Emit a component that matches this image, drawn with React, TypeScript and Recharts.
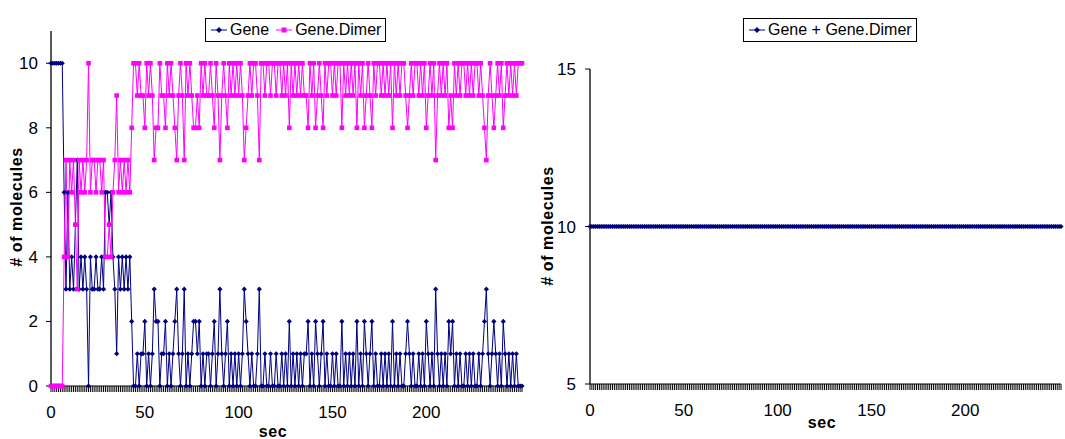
import { LineChart, Line, XAxis, YAxis } from 'recharts'

// Gene / Gene.Dimer molecule counts per second
const GENE = [
  10, 10, 10, 10, 10, 10, 10, 6, 3, 6,
  3, 4, 3, 5, 7, 3, 4, 3, 4, 3,
  0, 4, 3, 3, 4, 3, 3, 4, 3, 6,
  6, 5, 6, 4, 3, 1, 4, 3, 4, 3,
  4, 3, 4, 2, 0, 0, 1, 0, 1, 1,
  2, 0, 1, 0, 1, 3, 2, 2, 0, 1,
  1, 2, 0, 1, 0, 1, 2, 3, 1, 0,
  1, 3, 0, 1, 0, 1, 2, 2, 1, 2,
  0, 1, 0, 1, 1, 0, 1, 2, 0, 1,
  3, 1, 0, 1, 2, 0, 1, 0, 1, 0,
  1, 0, 1, 3, 2, 1, 0, 1, 0, 0,
  1, 3, 0, 0, 1, 0, 0, 1, 0, 0,
  1, 0, 0, 1, 0, 1, 0, 2, 0, 1,
  0, 1, 0, 1, 0, 1, 1, 2, 0, 1,
  0, 2, 1, 0, 1, 2, 0, 1, 0, 0,
  1, 0, 1, 0, 0, 2, 0, 1, 0, 1,
  0, 1, 0, 2, 0, 1, 0, 2, 1, 0,
  1, 2, 0, 1, 0, 0, 1, 0, 1, 0,
  1, 0, 2, 0, 1, 0, 1, 0, 0, 1,
  2, 1, 0, 1, 0, 0, 1, 0, 1, 0,
  2, 1, 0, 1, 0, 3, 1, 0, 1, 0,
  1, 0, 2, 1, 2, 0, 1, 0, 1, 0,
  0, 1, 0, 1, 0, 1, 0, 0, 1, 0,
  1, 2, 3, 1, 0, 1, 2, 1, 0, 1,
  0, 2, 1, 0, 1, 0, 1, 0, 1, 0,
  0, 0,
]

const GENE_DIMER = [
  0, 0, 0, 0, 0, 0, 0, 4, 7, 4,
  7, 6, 7, 5, 3, 7, 6, 7, 6, 7,
  10, 6, 7, 7, 6, 7, 7, 6, 7, 4,
  4, 5, 4, 6, 7, 9, 6, 7, 6, 7,
  6, 7, 6, 8, 10, 10, 9, 10, 9, 9,
  8, 10, 9, 10, 9, 7, 8, 8, 10, 9,
  9, 8, 10, 9, 10, 9, 8, 7, 9, 10,
  9, 7, 10, 9, 10, 9, 8, 8, 9, 8,
  10, 9, 10, 9, 9, 10, 9, 8, 10, 9,
  7, 9, 10, 9, 8, 10, 9, 10, 9, 10,
  9, 10, 9, 7, 8, 9, 10, 9, 10, 10,
  9, 7, 10, 10, 9, 10, 10, 9, 10, 10,
  9, 10, 10, 9, 10, 9, 10, 8, 10, 9,
  10, 9, 10, 9, 10, 9, 9, 8, 10, 9,
  10, 8, 9, 10, 9, 8, 10, 9, 10, 10,
  9, 10, 9, 10, 10, 8, 10, 9, 10, 9,
  10, 9, 10, 8, 10, 9, 10, 8, 9, 10,
  9, 8, 10, 9, 10, 10, 9, 10, 9, 10,
  9, 10, 8, 10, 9, 10, 9, 10, 10, 9,
  8, 9, 10, 9, 10, 10, 9, 10, 9, 10,
  8, 9, 10, 9, 10, 7, 9, 10, 9, 10,
  9, 10, 8, 9, 8, 10, 9, 10, 9, 10,
  10, 9, 10, 9, 10, 9, 10, 10, 9, 10,
  9, 8, 7, 9, 10, 9, 8, 9, 10, 9,
  10, 8, 9, 10, 9, 10, 9, 10, 9, 10,
  10, 10,
]

const GENE_TOTAL = [
  10, 10, 10, 10, 10, 10, 10, 10, 10, 10, 10, 10,
  10, 10, 10, 10, 10, 10, 10, 10, 10, 10, 10, 10,
  10, 10, 10, 10, 10, 10, 10, 10, 10, 10, 10, 10,
  10, 10, 10, 10, 10, 10, 10, 10, 10, 10, 10, 10,
  10, 10, 10, 10, 10, 10, 10, 10, 10, 10, 10, 10,
  10, 10, 10, 10, 10, 10, 10, 10, 10, 10, 10, 10,
  10, 10, 10, 10, 10, 10, 10, 10, 10, 10, 10, 10,
  10, 10, 10, 10, 10, 10, 10, 10, 10, 10, 10, 10,
  10, 10, 10, 10, 10, 10, 10, 10, 10, 10, 10, 10,
  10, 10, 10, 10, 10, 10, 10, 10, 10, 10, 10, 10,
  10, 10, 10, 10, 10, 10, 10, 10, 10, 10, 10, 10,
  10, 10, 10, 10, 10, 10, 10, 10, 10, 10, 10, 10,
  10, 10, 10, 10, 10, 10, 10, 10, 10, 10, 10, 10,
  10, 10, 10, 10, 10, 10, 10, 10, 10, 10, 10, 10,
  10, 10, 10, 10, 10, 10, 10, 10, 10, 10, 10, 10,
  10, 10, 10, 10, 10, 10, 10, 10, 10, 10, 10, 10,
  10, 10, 10, 10, 10, 10, 10, 10, 10, 10, 10, 10,
  10, 10, 10, 10, 10, 10, 10, 10, 10, 10, 10, 10,
  10, 10, 10, 10, 10, 10, 10, 10, 10, 10, 10, 10,
  10, 10, 10, 10, 10, 10, 10, 10, 10, 10, 10, 10,
  10, 10, 10, 10, 10, 10, 10, 10, 10, 10, 10, 10,
]

// one category per second
const SECONDS = GENE.map((_, i) => i)
const SEC_LABELS = [0, 50, 100, 150, 200]
const LEFT_Y_TICKS = [0, 2, 4, 6, 8, 10]
const RIGHT_Y_TICKS = [5, 10, 15]

const NAVY = '#000080'
const MAGENTA = '#ff00ff'
const FONT = '"Liberation Sans", Arial, sans-serif'

const leftData = SECONDS.map((t, i) => ({ t, gene: GENE[i], dimer: GENE_DIMER[i] }))
const rightData = SECONDS.map((t, i) => ({ t, total: GENE_TOTAL[i] }))

function Diamond({ cx, cy, size = 2.6 }: any) {
  if (cx == null || cy == null) return null
  return <path d={`M${cx},${cy - size}L${cx + size},${cy}L${cx},${cy + size}L${cx - size},${cy}Z`} fill={NAVY} />
}

function Square({ cx, cy }: any) {
  if (cx == null || cy == null) return null
  return <rect x={cx - 2.3} y={cy - 2.3} width={4.6} height={4.6} fill={MAGENTA} />
}

// every second gets a tick line, only a few get a label
function SecTick({ x, y, payload }: any) {
  if (!SEC_LABELS.includes(payload.value)) return <g />
  return (
    <text x={x} y={y} dy={24} textAnchor="middle" fontSize={17} fill="#000" fontFamily={FONT}>
      {payload.value}
    </text>
  )
}

function AxisTitle({ x, y, text, rotate }: { x: number; y: number; text: string; rotate?: boolean }) {
  return (
    <text
      x={x}
      y={y}
      textAnchor="middle"
      fontSize={16}
      fontWeight="bold"
      fontFamily={FONT}
      fill="#000"
      letterSpacing={0.6}
      transform={rotate ? `rotate(-90, ${x}, ${y})` : undefined}
    >
      {text}
    </text>
  )
}

function LegendBox({ left, items }: { left: number; items: { label: string; color: string; shape: 'diamond' | 'square' }[] }) {
  return (
    <div
      style={{
        position: 'absolute',
        left,
        top: 18,
        border: '1px solid #000',
        background: '#fff',
        padding: '1px 4px',
        display: 'flex',
        gap: 6,
        fontFamily: FONT,
        fontSize: 16,
        lineHeight: '20px',
        whiteSpace: 'nowrap',
        color: '#000',
      }}
    >
      {items.map((it) => (
        <span key={it.label} style={{ display: 'flex', alignItems: 'center', gap: 2 }}>
          <svg width={18} height={10}>
            <line x1={1} y1={5} x2={17} y2={5} stroke={it.color} strokeWidth={1} />
            {it.shape === 'diamond' ? (
              <path d="M9,2L12,5L9,8L6,5Z" fill={it.color} />
            ) : (
              <rect x={6.5} y={2.5} width={5} height={5} fill={it.color} />
            )}
          </svg>
          {it.label}
        </span>
      ))}
    </div>
  )
}

const tickStyle = { fontSize: 17, fill: '#000', fontFamily: FONT }

export default function App() {
  return (
    <div style={{ position: 'absolute', left: 0, top: 0, width: 1065, height: 439, overflow: 'hidden', background: '#fff' }}>
      {/* left: Gene and Gene.Dimer */}
      <div style={{ position: 'absolute', left: 0, top: 0 }}>
        <LineChart width={540} height={439} data={leftData} margin={{ top: 31, right: 18, bottom: 23, left: 21 }}>
          <XAxis
            dataKey="t"
            type="number"
            domain={[0, SECONDS.length - 1]}
            ticks={SECONDS}
            interval={0}
            tick={<SecTick />}
            tickSize={6}
            height={30}
            axisLine={{ stroke: '#000' }}
            tickLine={{ stroke: '#000' }}
          />
          <YAxis
            type="number"
            domain={[0, 11]}
            ticks={LEFT_Y_TICKS}
            interval={0}
            width={30}
            tick={tickStyle}
            tickSize={5}
            tickMargin={8}
            axisLine={{ stroke: '#222', strokeWidth: 1.5 }}
            tickLine={{ stroke: '#000' }}
          />
          <Line
            dataKey="gene"
            name="Gene"
            stroke={NAVY}
            strokeWidth={1}
            dot={(p: any) => <Diamond key={`g${p.index}`} {...p} />}
            activeDot={false}
            isAnimationActive={false}
          />
          <Line
            dataKey="dimer"
            name="Gene.Dimer"
            stroke={MAGENTA}
            strokeWidth={1}
            dot={(p: any) => <Square key={`d${p.index}`} {...p} />}
            activeDot={false}
            isAnimationActive={false}
          />
        </LineChart>
        <svg width={540} height={439} style={{ position: 'absolute', left: 0, top: 0, pointerEvents: 'none' }}>
          <AxisTitle x={22} y={207} text="# of molecules" rotate />
          <AxisTitle x={273} y={437} text="sec" />
        </svg>
        <LegendBox
          left={205}
          items={[
            { label: 'Gene', color: NAVY, shape: 'diamond' },
            { label: 'Gene.Dimer', color: MAGENTA, shape: 'square' },
          ]}
        />
      </div>

      {/* right: Gene + Gene.Dimer */}
      <div style={{ position: 'absolute', left: 530, top: 0 }}>
        <LineChart width={545} height={439} data={rightData} margin={{ top: 69, right: 14, bottom: 25, left: 30 }}>
          <XAxis
            dataKey="t"
            type="number"
            domain={[0, SECONDS.length - 1]}
            ticks={SECONDS}
            interval={0}
            tick={<SecTick />}
            tickSize={6}
            height={30}
            axisLine={{ stroke: '#000' }}
            tickLine={{ stroke: '#000' }}
          />
          <YAxis
            type="number"
            domain={[5, 15]}
            ticks={RIGHT_Y_TICKS}
            interval={0}
            width={30}
            tick={tickStyle}
            tickSize={5}
            tickMargin={9}
            axisLine={{ stroke: '#222', strokeWidth: 1.5 }}
            tickLine={{ stroke: '#000' }}
          />
          <Line
            dataKey="total"
            name="Gene + Gene.Dimer"
            stroke={NAVY}
            strokeWidth={1}
            dot={(p: any) => <Diamond key={`t${p.index}`} {...p} />}
            activeDot={false}
            isAnimationActive={false}
          />
        </LineChart>
        <svg width={545} height={439} style={{ position: 'absolute', left: 0, top: 0, pointerEvents: 'none' }}>
          <AxisTitle x={23} y={226} text="# of molecules" rotate />
          <AxisTitle x={292} y={428} text="sec" />
        </svg>
        <LegendBox left={213} items={[{ label: 'Gene + Gene.Dimer', color: NAVY, shape: 'diamond' }]} />
      </div>
    </div>
  )
}
